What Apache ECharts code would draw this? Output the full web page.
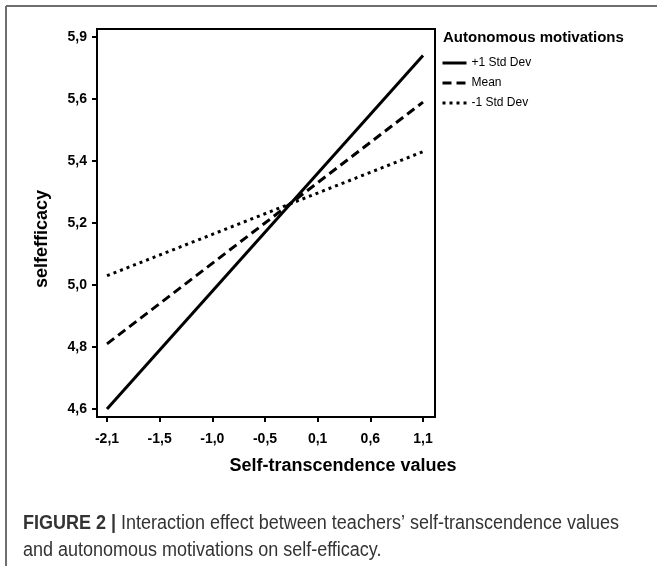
<!DOCTYPE html>
<html>
<head>
<meta charset="utf-8">
<script src="https://cdn.jsdelivr.net/npm/echarts@6.0.0/dist/echarts.min.js"></script>
<style>
  html, body { margin: 0; padding: 0; background: #fff; }
  #chart { width: 657px; height: 566px; }
</style>
</head>
<body>
<div id="chart"></div>
<script>
const xTickLabels = ['-2,1', '-1,5', '-1,0', '-0,5', '0,1', '0,6', '1,1'];
const yTickLabels = ['4,6', '4,8', '5,0', '5,2', '5,4', '5,6', '5,9'];
const seriesNames = ['+1 Std Dev', 'Mean', '-1 Std Dev'];
// the lines run from the first x tick to the last one (tick index 0 and 6)
const lineX = [0, 6];
const plusOneSD = [4.60, 5.74];
const meanValues = [4.81, 5.59];
const minusOneSD = [5.03, 5.43];

const chartDom = document.querySelector('#chart');
const myChart = echarts.init(chartDom);

const font = '"Liberation Sans", Arial, sans-serif';

const makeLine = (name, values, dash) => ({
  name: name,
  type: 'line',
  data: lineX.map((x, i) => [x, values[i]]),
  symbol: 'none',
  lineStyle: { color: '#000', width: 3, type: dash, cap: 'butt' },
  itemStyle: { color: '#000' }
});

myChart.setOption({
  animation: false,
  backgroundColor: '#fff',
  grid: { left: 107, right: 234, top: 37, bottom: 157 },
  legend: {
    data: seriesNames,
    orient: 'vertical',
    left: 441,
    top: 57,
    padding: 0,
    itemWidth: 24,
    itemHeight: 14,
    itemGap: 8,
    // line only, no marker in the legend keys
    itemStyle: { color: 'rgba(0,0,0,0)', borderWidth: 0, opacity: 0 },
    lineStyle: { width: 3 },
    textStyle: { color: '#000', fontSize: 12, fontFamily: font }
  },
  xAxis: {
    type: 'value',
    min: 0,
    max: 6,
    interval: 1,
    offset: 8,
    axisLine: { onZero: false, lineStyle: { color: '#000', width: 2 } },
    axisTick: { length: 5, lineStyle: { color: '#000', width: 2 } },
    axisLabel: {
      formatter: (v) => xTickLabels[v],
      margin: 15,
      color: '#000',
      fontSize: 14,
      fontWeight: 'bold',
      fontFamily: font
    },
    splitLine: { show: false }
  },
  yAxis: {
    type: 'value',
    min: 4.6,
    max: 5.8,
    interval: 0.2,
    offset: 10,
    axisLine: { show: true, onZero: false, lineStyle: { color: '#000', width: 2 } },
    axisTick: { show: true, length: 5, lineStyle: { color: '#000', width: 2 } },
    axisLabel: {
      formatter: (v, i) => yTickLabels[i],
      margin: 10,
      color: '#000',
      fontSize: 14,
      fontWeight: 'bold',
      fontFamily: font
    },
    splitLine: { show: false }
  },
  series: [
    makeLine(seriesNames[0], plusOneSD, 'solid'),
    makeLine(seriesNames[1], meanValues, [9, 5]),
    makeLine(seriesNames[2], minusOneSD, [3, 4])
  ],
  graphic: [
    // figure frame (top and left edges)
    { type: 'line', shape: { x1: 6, y1: 6, x2: 657, y2: 6 }, style: { stroke: '#6e6e6e', lineWidth: 2 } },
    { type: 'line', shape: { x1: 6, y1: 6, x2: 6, y2: 566 }, style: { stroke: '#6e6e6e', lineWidth: 2 } },
    // plot box
    { type: 'rect', shape: { x: 97, y: 29, width: 338, height: 388 }, style: { fill: 'none', stroke: '#000', lineWidth: 2 }, z: 10 },
    {
      type: 'text', x: 42, y: 239, rotation: Math.PI / 2,
      style: { text: 'selfefficacy', fontSize: 18, fontWeight: 'bold', fontFamily: font, fill: '#000', align: 'center', verticalAlign: 'middle' }
    },
    {
      type: 'text', x: 343, y: 466,
      style: { text: 'Self-transcendence values', fontSize: 18, fontWeight: 'bold', fontFamily: font, fill: '#000', align: 'center', verticalAlign: 'middle' }
    },
    {
      type: 'text', x: 443, y: 38,
      style: { text: 'Autonomous motivations', fontSize: 15, fontWeight: 'bold', fontFamily: font, fill: '#000', align: 'left', verticalAlign: 'middle' }
    },
    // caption, squeezed a little to get the condensed look of the original
    {
      type: 'text', x: 23, y: 523, scaleX: 0.9,
      style: {
        text: '{b|FIGURE 2 |} Interaction effect between teachers\u2019 self-transcendence values',
        fontSize: 20, fontFamily: font, fill: '#333',
        verticalAlign: 'middle',
        rich: { b: { fontWeight: 'bold', fontSize: 20, fontFamily: font, fill: '#333' } }
      }
    },
    {
      type: 'text', x: 23, y: 550, scaleX: 0.9,
      style: {
        text: 'and autonomous motivations on self-efficacy.',
        fontSize: 20, fontFamily: font, fill: '#333',
        verticalAlign: 'middle'
      }
    }
  ]
});

window.addEventListener('resize', () => {
  myChart.resize();
});
</script>
</body>
</html>
